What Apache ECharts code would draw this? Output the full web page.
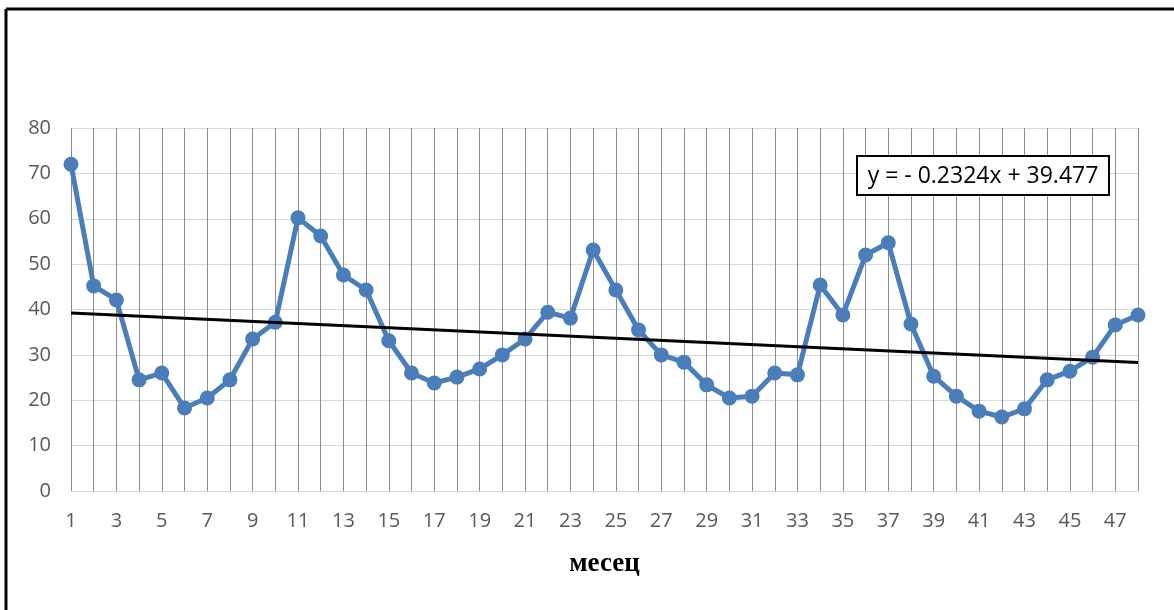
<!DOCTYPE html>
<html>
<head>
<meta charset="utf-8">
<script src="https://cdn.jsdelivr.net/npm/echarts@6/dist/echarts.min.js"></script>
<style>
  html, body { margin: 0; padding: 0; background: #fff; }
  #chart { width: 1174px; height: 610px; }
</style>
</head>
<body>
<div id="chart"></div>
<script>
// месеци 1..48
const months = []
for (let i = 1; i <= 48; i++) months.push(String(i))

// вредности прочитани од графикот
const values = [
  72.0, 45.2, 42.1, 24.5, 26.0, 18.3, 20.5, 24.5, 33.5, 37.2,
  60.2, 56.2, 47.6, 44.3, 33.1, 26.0, 23.8, 25.1, 26.9, 30.0,
  33.5, 39.4, 38.1, 53.1, 44.3, 35.5, 30.0, 28.4, 23.4, 20.5,
  20.9, 26.0, 25.6, 45.4, 38.8, 52.0, 54.7, 36.8, 25.3, 20.9,
  17.6, 16.3, 18.1, 24.5, 26.4, 29.5, 36.6, 38.8
]

// линеарен тренд: крајни точки
const trendX = ['1', '48']
const trendY = [39.24, 28.32]
const trendLabel = 'y = - 0.2324x + 39.477'

const yTicks = { min: 0, max: 80, interval: 10 }

const chart = echarts.init(document.getElementById('chart'))

const option = {
  backgroundColor: '#fff',
  animation: false,
  grid: { left: 71, right: 36, top: 128, bottom: 119 },
  xAxis: {
    type: 'category',
    data: months,
    boundaryGap: false,
    name: 'месец',
    nameLocation: 'middle',
    nameGap: 60,
    nameTextStyle: {
      fontFamily: 'Liberation Serif',
      fontWeight: 'bold',
      fontSize: 27,
      color: '#000'
    },
    axisLine: { lineStyle: { color: '#d9d9d9', width: 1 } },
    axisTick: { show: false },
    axisLabel: {
      interval: 1,
      color: '#595959',
      fontSize: 20,
      fontFamily: 'Open Sans',
      margin: 20
    },
    splitLine: {
      show: true,
      interval: 0,
      lineStyle: { color: '#8c8c8c', width: 1 }
    }
  },
  yAxis: {
    type: 'value',
    min: yTicks.min,
    max: yTicks.max,
    interval: yTicks.interval,
    axisLine: { show: false },
    axisTick: { show: false },
    axisLabel: {
      color: '#595959',
      fontSize: 20,
      fontFamily: 'Open Sans',
      margin: 20
    },
    splitLine: { lineStyle: { color: '#d9d9d9', width: 1 } }
  },
  series: [
    {
      name: 'вредност',
      type: 'line',
      data: values,
      symbol: 'circle',
      symbolSize: 15,
      showAllSymbol: true,
      lineStyle: { color: '#4a7ebb', width: 5 },
      itemStyle: { color: '#4a7ebb' },
      z: 3
    },
    {
      name: 'тренд',
      type: 'line',
      data: [],
      markLine: {
        silent: true,
        symbol: 'none',
        label: { show: false },
        lineStyle: { color: '#000', width: 3, type: 'solid' },
        data: [[
          { coord: [trendX[0], trendY[0]] },
          { coord: [trendX[1], trendY[1]] }
        ]]
      },
      z: 4
    }
  ],
  graphic: [
    {
      type: 'line',
      shape: { x1: 6, y1: 9, x2: 1174, y2: 9 },
      style: { stroke: '#000', lineWidth: 3 }
    },
    {
      type: 'line',
      shape: { x1: 6, y1: 9, x2: 6, y2: 610 },
      style: { stroke: '#000', lineWidth: 3 }
    },
    {
      type: 'rect',
      shape: { x: 857, y: 156, width: 252, height: 39 },
      style: { fill: '#fff', stroke: '#000', lineWidth: 2 },
      z: 10
    },
    {
      type: 'text',
      x: 983,
      y: 176,
      style: {
        text: trendLabel,
        fill: '#000',
        font: '23px "Open Sans"',
        align: 'center',
        verticalAlign: 'middle'
      },
      z: 11
    }
  ]
}

chart.setOption(option)
window.addEventListener('resize', () => chart.resize())
</script>
</body>
</html>
